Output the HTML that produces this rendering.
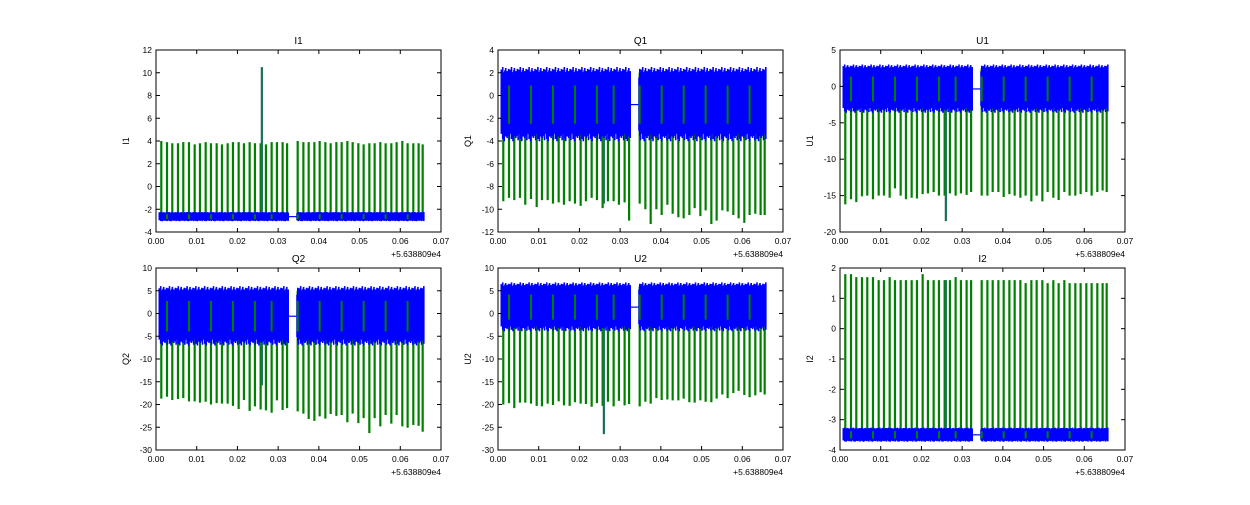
<!DOCTYPE html>
<html><head><meta charset="utf-8"><style>
body{margin:0;background:#fff;font-family:"Liberation Sans",sans-serif}
svg text{font-family:"Liberation Sans",sans-serif}
</style></head><body>
<svg id="c" width="1250" height="500"></svg>
<script>
const spikeTimes=[0.0013,0.0027,0.0040,0.0054,0.0067,0.0081,0.0095,0.0108,0.0122,0.0135,0.0149,0.0162,0.0176,0.0189,0.0203,0.0216,0.0230,0.0243,0.0257,0.0260,0.0270,0.0284,0.0297,0.0311,0.0322,
0.0348,0.0362,0.0375,0.0389,0.0402,0.0416,0.0429,0.0443,0.0456,0.0470,0.0483,0.0497,0.0510,0.0524,0.0537,0.0551,0.0564,0.0578,0.0591,0.0605,0.0618,0.0632,0.0645,0.0655];
const valI1=[4.0,3.9,3.8,3.8,3.9,3.9,3.7,3.8,3.9,3.8,3.8,3.7,3.8,3.9,3.9,3.8,3.9,3.8,3.8,10.5,3.7,3.9,3.9,3.9,3.8,4.0,3.9,3.9,3.9,4.0,3.9,3.8,3.9,3.9,4.0,3.9,3.8,3.7,3.8,3.8,3.9,3.8,3.8,3.9,4.0,3.8,3.8,3.8,3.7];
const valQ1=[-9.3,-9.0,-9.2,-9.0,-9.6,-9.1,-9.8,-9.2,-9.2,-9.5,-9.4,-9.6,-9.3,-9.5,-9.7,-9.3,-9.0,-9.2,-9.9,-9.5,-9.3,-9.3,-9.6,-9.4,-11.0,-9.5,-10.0,-11.3,-10.0,-10.5,-9.6,-10.4,-10.7,-10.8,-10.5,-9.9,-10.6,-10.1,-11.3,-11.0,-10.1,-10.2,-10.5,-10.8,-11.2,-10.5,-10.4,-10.5,-10.5];
const valU1=[-16.2,-15.5,-15.9,-15.1,-15.0,-15.5,-15.0,-15.0,-15.3,-14.0,-15.0,-15.5,-15.3,-15.4,-14.8,-14.7,-14.5,-15.0,-15.0,-18.5,-14.7,-15.0,-14.7,-14.9,-14.5,-15.0,-15.0,-14.5,-14.5,-15.2,-14.8,-15.0,-15.3,-15.0,-15.8,-15.0,-15.8,-14.5,-15.3,-15.6,-14.5,-15.0,-15.0,-14.8,-14.5,-15.0,-14.5,-14.3,-14.5];
const valQ2=[-18.7,-18.3,-19.0,-18.8,-18.6,-19.3,-19.3,-19.6,-19.4,-20.0,-19.7,-19.8,-19.8,-20.3,-21.0,-19.0,-21.4,-20.4,-21.1,-15.8,-21.3,-21.8,-19.1,-21.2,-20.8,-21.5,-22.0,-23.2,-23.6,-22.6,-23.1,-22.1,-22.5,-22.3,-23.9,-22.0,-24.1,-23.0,-26.3,-23.0,-24.8,-22.3,-24.2,-22.3,-24.8,-25.1,-24.5,-24.7,-26.0];
const valU2=[-20.0,-19.7,-20.8,-19.6,-19.6,-19.8,-20.3,-20.4,-19.8,-20.1,-19.3,-20.2,-20.3,-19.5,-19.8,-19.9,-20.5,-19.7,-20.3,-26.5,-19.4,-20.4,-19.2,-20.2,-19.9,-20.4,-19.4,-19.8,-18.6,-19.0,-18.9,-19.1,-19.1,-18.7,-19.5,-19.6,-19.1,-19.4,-19.5,-18.7,-17.8,-18.6,-17.5,-17.0,-17.9,-18.4,-18.0,-17.3,-17.8];
const valI2=[1.8,1.8,1.7,1.7,1.7,1.7,1.6,1.6,1.7,1.6,1.6,1.6,1.6,1.6,1.8,1.6,1.6,1.6,1.6,1.6,1.6,1.7,1.6,1.6,1.6,1.6,1.6,1.6,1.6,1.6,1.6,1.6,1.6,1.5,1.6,1.6,1.6,1.5,1.6,1.5,1.6,1.5,1.5,1.5,1.5,1.5,1.5,1.5,1.5];
const bandLo=[-3.0,-3.6,-3.2,-6.2,-3.2,-3.7];
const bandHi=[-2.3,2.0,2.5,5.0,6.0,-3.3];
const titles=["I1","Q1","U1","Q2","U2","I2"];
const yMin=[-4,-12,-20,-30,-30,-4], yMax=[12,4,5,10,10,2], yStep=[2,2,5,5,5,1];
const xTicks=[0,0.01,0.02,0.03,0.04,0.05,0.06,0.07];
const vals=[valI1,valQ1,valU1,valQ2,valU2,valI2];

const NS="http://www.w3.org/2000/svg", svg=document.getElementById('c');
function mk(t,a,p){const e=document.createElementNS(NS,t);for(const k in a)e.setAttribute(k,a[k]);(p||svg).appendChild(e);return e;}
const lefts=[156,498,840], tops=[50,268], W=285, H=182;
for(let i=0;i<6;i++){
  const L=lefts[i%3], T=tops[Math.floor(i/3)];
  const g=mk('g',{});
  
  
  const sx=v=>L+v/0.07*W, sy=v=>T+H-(v-yMin[i])/(yMax[i]-yMin[i])*H;
  const mid=(bandLo[i]+bandHi[i])/2;
  // green spikes (under band)
  spikeTimes.forEach((t,k)=>{
    const v=vals[i][k];
    const base=v<mid?bandHi[i]:bandLo[i];
    const l=mk('line',{x1:sx(t),x2:sx(t),y1:sy(base),y2:sy(v),stroke:k==19?'#1a6e5a':'#008000','stroke-width':2.2},g);
    
    
  });
  // blue band with jagged edges
  let d='';const jit=[0.10,-0.05,0.18,0.02,-0.12,0.08,0.15,-0.08,0.05,-0.15,0.12,0.0];
  const amp=(bandHi[i]-bandLo[i]);
  let n=0;
  for(let t=0.0008;t<=0.0658;t+=0.00018){
    if(t>0.0325&&t<0.0345){continue;}
    const a=jit[n%12]*amp*0.5, b=jit[(n+5)%12]*amp*0.5;n++;
    d+=`M${sx(t).toFixed(1)},${sy(bandLo[i]+b)}V${sy(bandHi[i]+a)}`;
  }
  const band=mk('path',{d:d,stroke:'#0000ff','stroke-width':1.6,fill:'none'},g);
  
  
  mk('line',{x1:sx(0.0325),x2:sx(0.0345),y1:sy(mid),y2:sy(mid),stroke:'#0000ff','stroke-width':1.2},g);
  // a few green spikes over the band
  spikeTimes.forEach((t,k)=>{ if(k%4==1){
    mk('line',{x1:sx(t),x2:sx(t),y1:sy(bandLo[i]+amp*0.2),y2:sy(bandHi[i]-amp*0.2),stroke:'#008000','stroke-width':2},g);}});
  // frame
  mk('rect',{x:L,y:T,width:W,height:H,fill:'none',stroke:'#000','stroke-width':1},g);
  xTicks.forEach(v=>{const x=sx(v);
    mk('line',{x1:x,x2:x,y1:T+H,y2:T+H-4,stroke:'#000'},g);
    mk('line',{x1:x,x2:x,y1:T,y2:T+4,stroke:'#000'},g);
    const tx=mk('text',{x:x,y:T+H+12,'font-size':8.5,'text-anchor':'middle'},g);tx.textContent=v.toFixed(2);
  });
  for(let v=yMin[i];v<=yMax[i]+1e-9;v+=yStep[i]){const y=sy(v);
    mk('line',{x1:L,x2:L+4,y1:y,y2:y,stroke:'#000'},g);
    mk('line',{x1:L+W,x2:L+W-4,y1:y,y2:y,stroke:'#000'},g);
    const tx=mk('text',{x:L-4,y:y+3,'font-size':8.5,'text-anchor':'end'},g);tx.textContent=v;
  }
  const tt=mk('text',{x:L+W/2,y:T-6,'font-size':10,'text-anchor':'middle'},g);tt.textContent=titles[i];
  
  
  const yl=mk('text',{x:0,y:0,'font-size':9,'text-anchor':'middle',transform:`translate(${L-27},${T+H/2}) rotate(-90)`},g);yl.textContent=titles[i];
  
  
  const off=mk('text',{x:L+W,y:T+H+25,'font-size':8.5,'text-anchor':'end'},g);off.textContent='+5.638809e4';
  
  
}
</script>
</body></html>
